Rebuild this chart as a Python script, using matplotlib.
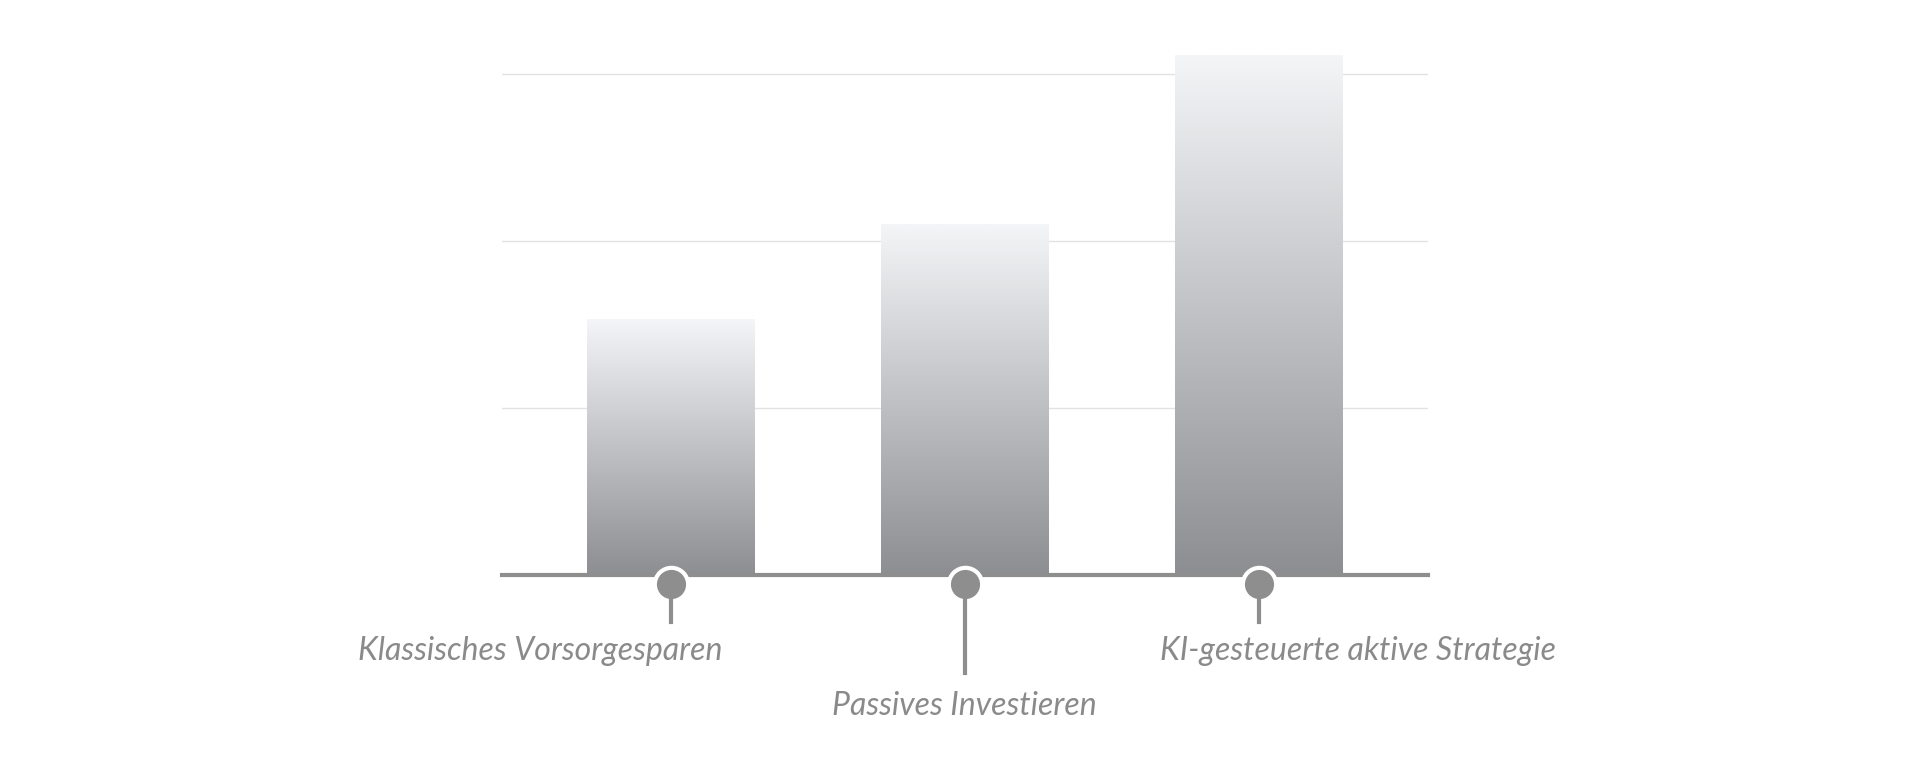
import matplotlib
matplotlib.use("Agg")
import matplotlib.pyplot as plt
import numpy as np
from matplotlib.colors import LinearSegmentedColormap
import matplotlib.transforms as mt

categories = ["Klassisches Vorsorgesparen", "Passives Investieren", "KI-gesteuerte aktive Strategie"]
values = [1.53, 2.10, 3.11]
grid_vals = [1, 2, 3]

fig = plt.figure(figsize=(19.2, 7.65), dpi=100)
ax = fig.add_axes([0.2615, 0.248, 0.482, 0.688])
x = np.arange(len(categories))
w = 0.57
cmap = LinearSegmentedColormap.from_list("g", ["#8d8e91", "#f4f5f7"])
grad = np.linspace(0, 1, 256).reshape(-1, 1)
for xi, v in zip(x, values):
    ax.imshow(grad, extent=[xi - w/2, xi + w/2, 0, v], origin="lower", cmap=cmap,
              aspect="auto", zorder=2)
for g in grid_vals:
    ax.axhline(g, color="#e2e2e2", lw=1, zorder=1)
ax.axhline(0, color="#8e8e8e", lw=3, zorder=3, clip_on=False)
ax.set_xlim(-0.575, 2.575)
ax.set_ylim(0, 3.15)
ax.axis("off")

tr = mt.blended_transform_factory(ax.transData, fig.transFigure)
stem_end = [0.187, 0.12, 0.187]
label_y = [0.149, 0.077, 0.149]
label_x = [-0.446, 1.0, 2.34]
for xi, se, lx, ly, c in zip(x, stem_end, label_x, label_y, categories):
    ax.plot([xi, xi], [0.2368, se], color="#8e8e8e", lw=3, transform=tr, clip_on=False, zorder=4)
    ax.plot([xi], [0.2368], marker="o", ms=24, mfc="#8e8e8e", mec="white", mew=3,
            transform=tr, clip_on=False, zorder=3.5)
    fig.text(lx, ly, c, transform=tr, ha="center", va="center", fontsize=23,
             style="italic", family="Lato", color="#8a8a8a")
fig.savefig("out.png", dpi=100)
